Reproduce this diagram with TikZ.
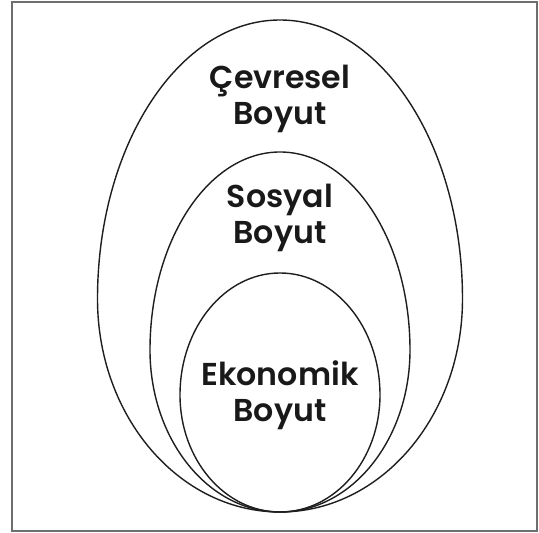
\documentclass[tikz,border=0pt]{standalone}
\usepackage{fontspec}
\setmainfont{Poppins}[BoldFont={Poppins SemiBold}]
\usepackage{tikz}
\usetikzlibrary{positioning}
\definecolor{eggline}{RGB}{30,30,30}
\definecolor{frameline}{RGB}{110,110,110}
% egg: center x, widest y, x radius, top radius, bottom radius
\newcommand{\drawegg}[5]{\draw[eggline,line width=0.8pt] ({#1+#3},#2) arc[start angle=0,end angle=180,x radius=#3,y radius=#4] arc[start angle=180,end angle=360,x radius=#3,y radius=#5] -- cycle;}

\begin{document}
\begin{tikzpicture}[x=0.02cm,y=0.02cm,
  label/.style={font=\bfseries\fontsize{18}{20.5}\selectfont,align=center,text=black!90}]
\useasboundingbox (0,0) rectangle (539,533);
\draw[frameline,line width=0.9pt] (12,2) rectangle (537,531);
\drawegg{280}{234}{182.5}{279}{213}
\drawegg{280}{183}{130}{198}{162}
\drawegg{280}{138}{100}{122}{117}
\node[label] (env) at (280,434) {Çevresel\\Boyut};
\node[label] (soc) at (280,315) {Sosyal\\Boyut};
\node[label] (eco) at (280,138) {Ekonomik\\Boyut};
\end{tikzpicture}
\end{document}
